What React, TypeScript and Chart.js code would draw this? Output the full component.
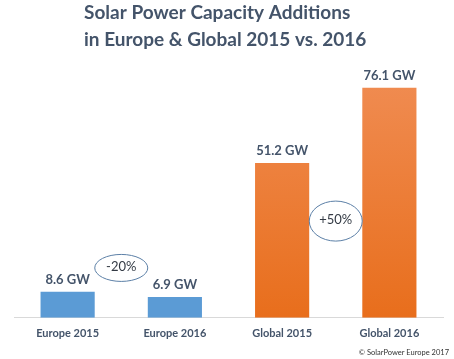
import React, { useEffect, useRef } from "react";
import { Chart, registerables } from "chart.js";

Chart.register(...registerables);

const categories = ["Europe 2015", "Europe 2016", "Global 2015", "Global 2016"];
const capacityGW = [8.6, 6.9, 51.2, 76.1];
const valueLabels = ["8.6 GW", "6.9 GW", "51.2 GW", "76.1 GW"];
const barKinds = ["blue", "blue", "orange", "orange"];
// change bubbles: placed between category index pairs, at a GW height
const changeLabels = ["-20%", "+50%"];
const changeBetween = [0.5, 2.5];
const changeAtGW = [16.5, 32];
const changeRy = [13.5, 20];
const titleLines = ["Solar Power Capacity Additions", "in Europe & Global 2015 vs. 2016"];
const sourceNote = "© SolarPower Europe 2017";

const TEXT = "#44546a";
const FONT = "Lato, 'Open Sans', sans-serif";

const overlayPlugin = {
  id: "overlay",
  afterDatasetsDraw(chart: any) {
    const { ctx, scales } = chart;
    const xs = scales.x;
    const ys = scales.y;
    ctx.save();
    // title
    ctx.fillStyle = TEXT;
    ctx.font = `bold 19px ${FONT}`;
    ctx.textAlign = "left";
    ctx.textBaseline = "middle";
    titleLines.forEach((t, i) => ctx.fillText(t, 84, 13 + i * 27));
    // value labels
    const meta = chart.getDatasetMeta(0);
    ctx.font = `bold 13px ${FONT}`;
    ctx.textAlign = "center";
    meta.data.forEach((bar: any, i: number) => {
      ctx.fillText(valueLabels[i], bar.x, bar.y - 12);
    });
    // change bubbles
    changeLabels.forEach((lab, i) => {
      const cx = xs.getPixelForValue(changeBetween[i]);
      const cy = ys.getPixelForValue(changeAtGW[i]);
      ctx.beginPath();
      ctx.ellipse(cx, cy, 26.5, changeRy[i], 0, 0, Math.PI * 2);
      ctx.fillStyle = "#ffffff";
      ctx.fill();
      ctx.strokeStyle = "#5b7fa6";
      ctx.lineWidth = 1;
      ctx.stroke();
      ctx.fillStyle = "#333a44";
      ctx.font = `13px ${FONT}`;
      ctx.fillText(lab, cx, cy - 1);
    });
    // source note
    ctx.fillStyle = "#333333";
    ctx.font = `7.5px ${FONT}`;
    ctx.textAlign = "right";
    ctx.fillText(sourceNote, 449, 353);
    ctx.restore();
  },
};

export default function App() {
  const ref = useRef<HTMLCanvasElement>(null);
  useEffect(() => {
    const canvas = ref.current!;
    const chart = new Chart(canvas, {
      type: "bar",
      data: {
        labels: categories,
        datasets: [
          {
            data: capacityGW,
            backgroundColor: (c: any) => {
              const kind = barKinds[c.dataIndex];
              if (kind === "blue") return "#5b9bd5";
              const area = c.chart.chartArea;
              if (!area) return "#ed7d31";
              const g = c.chart.ctx.createLinearGradient(0, area.top, 0, area.bottom);
              g.addColorStop(0, "#f08c52");
              g.addColorStop(1, "#e86e1c");
              return g;
            },
            borderWidth: 0,
            categoryPercentage: 1,
            barPercentage: 0.505,
          },
        ],
      },
      options: {
        responsive: false,
        animation: false,
        devicePixelRatio: 1,
        layout: { padding: { top: 76, left: 14, right: 11, bottom: 10 } },
        plugins: { legend: { display: false }, tooltip: { enabled: false } },
        scales: {
          y: { display: false, min: 0, max: 80 },
          x: {
            grid: { display: false, drawTicks: false },
            border: { display: true, color: "#d9d9d9", width: 1 },
            ticks: {
              color: TEXT,
              padding: 9,
              font: { family: FONT, size: 11, weight: "bold" },
            },
          },
        },
      },
      plugins: [overlayPlugin],
    } as any);
    return () => chart.destroy();
  }, []);
  return (
    <div style={{ position: "fixed", left: 0, top: 0, width: 454, height: 359, background: "#fff" }}>
      <canvas ref={ref} width={454} height={359} style={{ display: "block" }} />
    </div>
  );
}
